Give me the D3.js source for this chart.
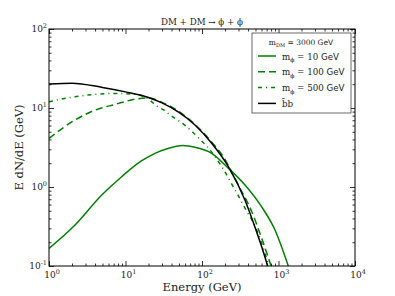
<!DOCTYPE html>
<html>
<head>
<meta charset="utf-8">
<script src="https://cdn.jsdelivr.net/npm/d3@7"></script>
<style>
  body { margin: 0; background: #fff; }
  svg { display: block; }
  .serif { font-family: "DejaVu Serif", "Liberation Serif", serif; }
  .sans { font-family: "DejaVu Sans", sans-serif; }
</style>
</head>
<body>
<div id="chart"></div>
<script>
// data
const E_10 = [1, 2.19, 4.89, 8.9, 16.3, 24.3, 35, 56, 81, 134, 221, 365, 603, 900, 1343];
const V_10 = [0.167, 0.33, 0.79, 1.35, 2.15, 2.67, 3.05, 3.35, 3.18, 2.67, 1.73, 1.06, 0.56, 0.286, 0.1];
const E_100 = [1, 2.19, 4, 7.3, 13.3, 20, 30, 50, 81, 134, 190, 300, 446, 603, 800];
const V_100 = [4.13, 7.05, 9.4, 11.1, 12.9, 13.4, 11.8, 9.0, 6.2, 3.7, 2.42, 1.05, 0.49, 0.224, 0.1];
const E_500 = [1, 2.19, 4, 7.3, 13.3, 19.9, 25.6, 32.8, 40, 51.6, 63, 77, 94, 115, 181, 270, 365, 519, 666, 745];
const V_500 = [12.0, 13.9, 14.9, 15.3, 14.9, 13.0, 10.6, 9.2, 7.9, 6.7, 5.8, 4.86, 4.0, 3.3, 1.81, 0.92, 0.54, 0.286, 0.145, 0.1];
const E_BB = [1, 2, 5, 10, 20, 30, 50, 81, 134, 221, 365, 493, 603, 722];
const V_BB = [20.1, 20.6, 18.2, 16.0, 13.6, 11.6, 8.8, 6.1, 3.57, 1.81, 0.68, 0.31, 0.175, 0.1];

const X_MAJOR = [1, 10, 100, 1000, 10000];
const Y_MAJOR = [0.1, 1, 10, 100];

const series = [
  { e: E_10, v: V_10, color: "green", dash: null, label: "10" },
  { e: E_100, v: V_100, color: "green", dash: "7,4", label: "100" },
  { e: E_500, v: V_500, color: "green", dash: "4,4,1,4", label: "500" },
  { e: E_BB, v: V_BB, color: "#000", dash: null, label: "bb" }
];

const WIDTH = 395, HEIGHT = 296;
const M = { left: 49, right: 355, top: 29, bottom: 266 };

const svg = d3.select("#chart").append("svg")
  .attr("width", WIDTH).attr("height", HEIGHT);

const x = d3.scaleLog().domain([1, 1e4]).range([M.left, M.right]);
const y = d3.scaleLog().domain([0.1, 100]).range([M.bottom, M.top]);

function minors(lo, hi) {
  const out = [];
  for (let d = lo; d < hi; d *= 10)
    for (let k = 2; k <= 9; k++) out.push(d * k);
  return out;
}
const xMinor = minors(1, 1e4);
const yMinor = minors(0.1, 100);

svg.append("clipPath").attr("id", "clip")
  .append("rect")
  .attr("x", M.left).attr("y", M.top)
  .attr("width", M.right - M.left).attr("height", M.bottom - M.top);

// curves
const line = d3.line()
  .x(d => x(d[0]))
  .y(d => y(d[1]))
  .curve(d3.curveMonotoneX);

svg.append("g").attr("clip-path", "url(#clip)")
  .selectAll("path")
  .data(series)
  .enter()
  .append("path")
  .attr("d", s => line(s.e.map((e, i) => [e, s.v[i]])))
  .attr("fill", "none")
  .attr("stroke", s => s.color)
  .attr("stroke-width", 1.5)
  .attr("stroke-dasharray", s => s.dash);

// axes, ticks pointing inward on all four sides
function styleAxis(g) {
  g.select(".domain").remove();
  g.selectAll("line").attr("stroke", "#000").attr("stroke-width", 0.8);
}
const bx = svg.append("g").attr("transform", `translate(0,${M.bottom})`);
bx.call(d3.axisBottom(x).tickValues(xMinor).tickSize(-2.5).tickFormat("")).call(styleAxis);
bx.append("g").call(d3.axisBottom(x).tickValues(X_MAJOR).tickSize(-5).tickFormat("")).call(styleAxis);

const tx = svg.append("g").attr("transform", `translate(0,${M.top})`);
tx.call(d3.axisTop(x).tickValues(xMinor).tickSize(-2.5).tickFormat("")).call(styleAxis);
tx.append("g").call(d3.axisTop(x).tickValues(X_MAJOR).tickSize(-5).tickFormat("")).call(styleAxis);

const ly = svg.append("g").attr("transform", `translate(${M.left},0)`);
ly.call(d3.axisLeft(y).tickValues(yMinor).tickSize(-2.5).tickFormat("")).call(styleAxis);
ly.append("g").call(d3.axisLeft(y).tickValues(Y_MAJOR).tickSize(-5).tickFormat("")).call(styleAxis);

const ry = svg.append("g").attr("transform", `translate(${M.right},0)`);
ry.call(d3.axisRight(y).tickValues(yMinor).tickSize(-2.5).tickFormat("")).call(styleAxis);
ry.append("g").call(d3.axisRight(y).tickValues(Y_MAJOR).tickSize(-5).tickFormat("")).call(styleAxis);

// frame
svg.append("rect")
  .attr("x", M.left).attr("y", M.top)
  .attr("width", M.right - M.left).attr("height", M.bottom - M.top)
  .attr("fill", "none").attr("stroke", "#000").attr("stroke-width", 1);

// tick labels like 10^n
function powLabel(sel, v) {
  const p = Math.round(Math.log10(v));
  sel.append("tspan").text("10");
  sel.append("tspan").attr("dy", -4).attr("font-size", 6.5).text(p);
}
svg.append("g").selectAll("text")
  .data(X_MAJOR).enter().append("text")
  .attr("class", "serif")
  .attr("x", d => x(d) + 3).attr("y", M.bottom + 12)
  .attr("text-anchor", "middle").attr("font-size", 9).attr("fill", "#222")
  .each(function(d) { powLabel(d3.select(this), d); });

svg.append("g").selectAll("text")
  .data(Y_MAJOR).enter().append("text")
  .attr("class", "serif")
  .attr("x", M.left - 2).attr("y", d => y(d) + 3)
  .attr("text-anchor", "end").attr("font-size", 9).attr("fill", "#222")
  .each(function(d) { powLabel(d3.select(this), d); });

// axis titles
svg.append("text").attr("class", "serif")
  .attr("x", (M.left + M.right) / 2).attr("y", 291)
  .attr("text-anchor", "middle").attr("font-size", 11.5).attr("fill", "#222")
  .text("Energy (GeV)");

svg.append("text").attr("class", "serif")
  .attr("transform", `translate(23,${(M.top + M.bottom) / 2}) rotate(-90)`)
  .attr("text-anchor", "middle").attr("font-size", 11.5).attr("fill", "#222")
  .text("E dN/dE (GeV)");

svg.append("text").attr("class", "serif")
  .attr("x", (M.left + M.right) / 2).attr("y", 25)
  .attr("text-anchor", "middle").attr("font-size", 8.7).attr("fill", "#222")
  .text("DM + DM \u2192 \u03d5 + \u03d5");

// legend
const lg = svg.append("g");
lg.append("rect")
  .attr("x", 252).attr("y", 33).attr("width", 99).attr("height", 80)
  .attr("fill", "#fff").attr("stroke", "#444").attr("stroke-width", 0.8);

const head = lg.append("text").attr("x", 301).attr("y", 45)
  .attr("text-anchor", "middle").attr("font-size", 7.5).attr("fill", "#222");
head.append("tspan").attr("class", "serif").text("m");
head.append("tspan").attr("class", "serif").attr("font-size", 5).attr("dy", 2).text("DM");
head.append("tspan").attr("class", "serif").attr("dy", -2).text(" = 3000");
head.append("tspan").attr("class", "sans").attr("font-size", 7.5).text(" GeV");

const rows = lg.selectAll("g.row")
  .data(series).enter().append("g")
  .attr("class", "row")
  .attr("transform", (d, i) => `translate(0,${56 + i * 15.8})`);

rows.append("line")
  .attr("x1", 258).attr("x2", 276)
  .attr("stroke", d => d.color).attr("stroke-width", 1.5)
  .attr("stroke-dasharray", d => d.dash);

rows.each(function(d) {
  const t = d3.select(this).append("text")
    .attr("x", 282).attr("y", 3.5).attr("font-size", 8.7).attr("fill", "#222");
  if (d.label === "bb") {
    t.attr("class", "serif").text("b\u0304b");
    return;
  }
  t.append("tspan").attr("class", "serif").text("m");
  t.append("tspan").attr("class", "serif").attr("font-size", 6).attr("dy", 2.5).text("\u03d5");
  t.append("tspan").attr("class", "serif").attr("dy", -2.5).text(" = " + d.label);
  t.append("tspan").attr("class", "sans").attr("font-size", 8.7).text(" GeV");
});
</script>
</body>
</html>
